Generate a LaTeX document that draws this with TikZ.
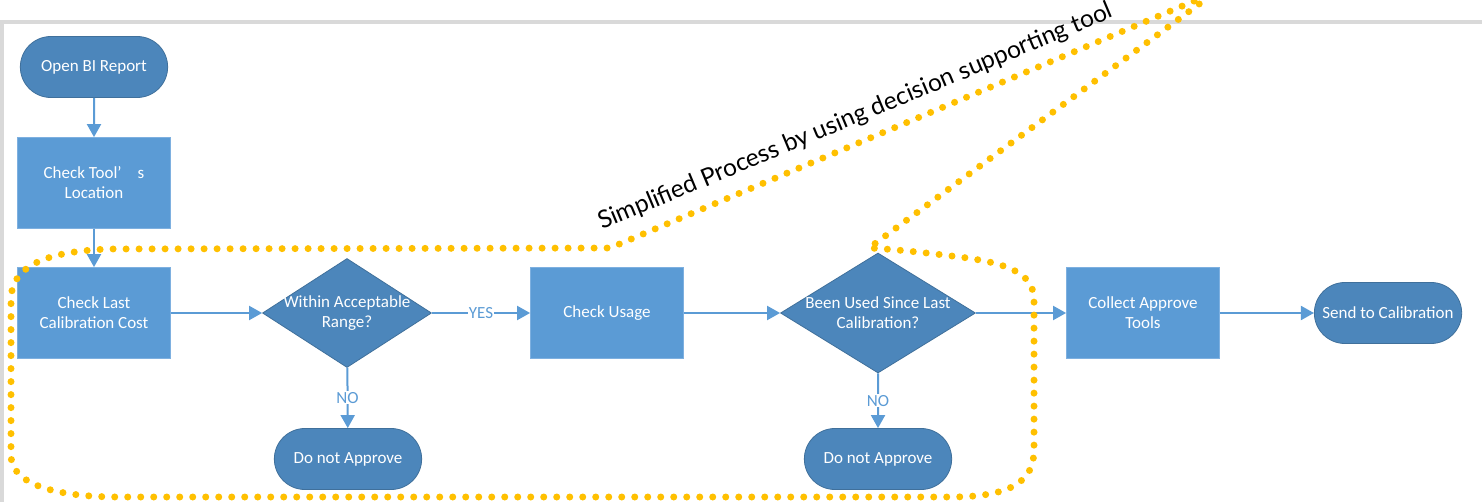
\documentclass[tikz,border=0pt]{standalone}
\usepackage{fontspec}
\setmainfont{Carlito}
\newfontfamily\titlefont{Lato}
\usetikzlibrary{shapes.geometric, shapes.misc, arrows.meta}

\definecolor{procblue}{RGB}{91,155,213}
\definecolor{procedge}{RGB}{126,176,224}
\definecolor{termblue}{RGB}{76,134,187}
\definecolor{termedge}{RGB}{64,112,155}
\definecolor{loopgold}{RGB}{255,192,0}
\definecolor{framegray}{RGB}{217,217,217}

\newcommand{\twolines}[2]{\makebox[0pt]{#1}\\\makebox[0pt]{#2}}

\begin{document}
\begin{tikzpicture}[
    x = 1pt, y = -1pt,
    stage/.style = {draw,
      line width = 0.8pt,
      text = white,
      align = center,
      font = \fontsize{17}{20}\selectfont},
    process/.style = {rectangle,
      fill = procblue, draw = procedge,
      minimum width = 153, minimum height = 91},
    terminal/.style = {rounded rectangle,
      fill = termblue, draw = termedge,
      minimum width = 154, minimum height = 61},
    decision/.style = {diamond,
      fill = termblue, draw = termedge,
      inner sep = 0pt},
    flow/.style = {draw = procblue,
      line width = 2pt,
      -{Triangle[length = 13pt, width = 14pt]}},
    answer/.style = {fill = white,
      text = procblue,
      inner sep = 1pt,
      font = \fontsize{17}{17}\selectfont},
    fence/.style = {draw = loopgold,
      line width = 7pt,
      line cap = round,
      dash pattern = on 0pt off 13pt},
    ]

    \useasboundingbox (0, 0) rectangle (1482, 502);

    % frame of the slide
    \draw [framegray, line width = 4pt] (1.5, 510) -- (1.5, 22) -- (1490, 22);

    \node at (94, 67)
    [stage, terminal, name = open] {Open BI Report};
    \node at (94, 183)
    [stage, process, name = location] {Check Tool’\hspace{16pt}s\\Location};
    \node at (94, 313)
    [stage, process, name = cost] {Check Last\\Calibration Cost};

    \node at (347, 313)
    [stage, decision, minimum width = 169, minimum height = 109, name = range]
    {\twolines{Within Acceptable}{Range?}};
    \node at (348, 459)
    [stage, terminal, name = reject_a] {Do not Approve};

    \node at (607, 313)
    [stage, process, name = usage] {Check Usage};

    \node at (878, 313)
    [stage, decision, minimum width = 195, minimum height = 120, name = used]
    {\twolines{Been Used Since Last}{Calibration?}};
    \node at (878, 459)
    [stage, terminal, name = reject_b] {Do not Approve};

    \node at (1143, 313)
    [stage, process, name = collect] {Collect Approve\\Tools};
    \node at (1388, 313)
    [stage, terminal, name = send] {Send to Calibration};

    \draw [flow] (open) to (location);
    \draw [flow] (location) to (cost);
    \draw [flow] (cost) to (range);
    \draw [flow] (range) to node [answer] {YES} (usage);
    \draw [flow] (range) to node [answer] {NO} (reject_a);
    \draw [flow] (usage) to (used);
    \draw [flow] (used) to node [answer] {NO} (reject_b);
    \draw [flow] (used) to (collect);
    \draw [flow] (collect) to (send);

    % dotted boundary of the simplified part
    \draw [fence] (1206, -4) -- (610, 248) -- (110, 249)
    .. controls (55, 251) and (11, 262) .. (11, 300) -- (11, 455)
    .. controls (11, 486) and (60, 497) .. (120, 497) -- (950, 497)
    .. controls (1010, 497) and (1034, 482) .. (1034, 450) -- (1034, 300)
    .. controls (1034, 272) and (1005, 263) .. (960, 257)
    .. controls (920, 252) and (890, 249) .. (869, 248) -- (1210, -4);

    \node at (602, 230)
    [anchor = base west, rotate = 22.6, inner sep = 0pt,
      font = \titlefont\fontsize{24.5}{24.5}\selectfont, name = title]
    {Simplified Process by using decision supporting tool};
  \end{tikzpicture}
\end{document}
